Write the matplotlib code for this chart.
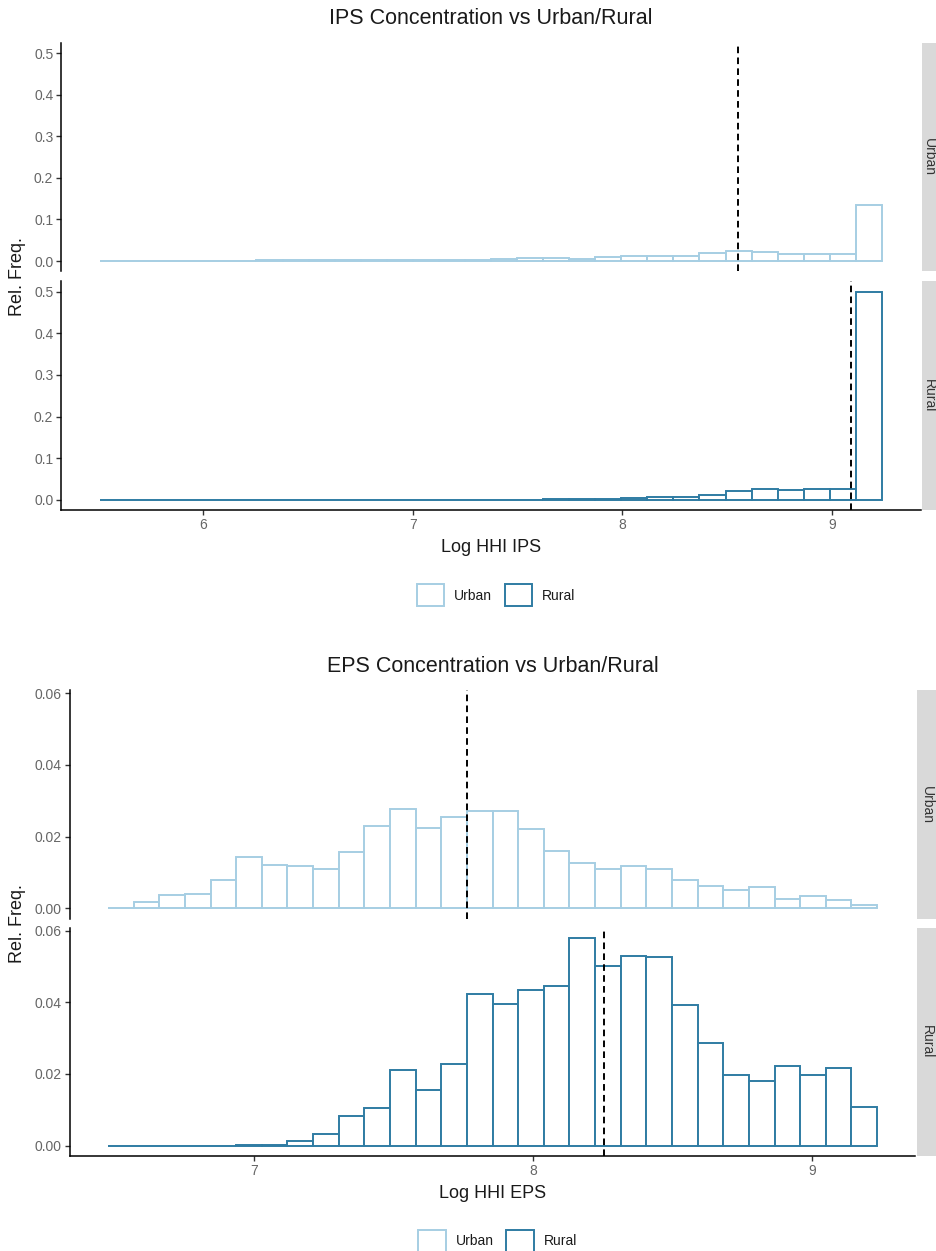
#!/usr/bin/env python3
# -*- coding: utf-8 -*-
"""Histogramas de concentração (IPS / EPS) por Urban vs Rural, estilo ggplot facet_grid."""

import numpy as np
import matplotlib
matplotlib.use("Agg")
import matplotlib.pyplot as plt
from matplotlib.patches import Patch, Rectangle

plt.rcParams["font.family"] = ["Liberation Sans", "DejaVu Sans"]

W, H = 937, 1251

URBAN_COLOR = "#A6CEE3"
RURAL_COLOR = "#2F7CA3"
GROUPS = ["Urban", "Rural"]

# --- IPS: 30 bins ---
ips_bin_start = 5.509
ips_bin_width = 0.1243
ips_urban = [0.0, 0.0, 0.0, 0.0, 0.0, 0.0, 0.002, 0.002, 0.002, 0.002,
             0.002, 0.002, 0.002, 0.003, 0.003, 0.004, 0.007, 0.008, 0.005, 0.009,
             0.012, 0.013, 0.012, 0.019, 0.023, 0.021, 0.016, 0.016, 0.016, 0.135]
ips_rural = [0.0, 0.0, 0.0, 0.0, 0.0, 0.0, 0.0, 0.0, 0.0, 0.0,
             0.0, 0.0, 0.0, 0.0, 0.0, 0.0, 0.0, 0.001, 0.002, 0.003,
             0.005, 0.006, 0.007, 0.012, 0.022, 0.026, 0.023, 0.025, 0.026, 0.5]
ips_means = [8.55, 9.09]
ips_xticks = [6, 7, 8, 9]
ips_yticks = [0.0, 0.1, 0.2, 0.3, 0.4, 0.5]

# --- EPS: 30 bins ---
eps_bin_start = 6.4767
eps_bin_width = 0.09188
eps_urban = [0.0, 0.0019, 0.0037, 0.0039, 0.0079, 0.0142, 0.0121, 0.0117, 0.0110, 0.0158,
             0.0230, 0.0277, 0.0223, 0.0255, 0.0272, 0.0272, 0.0220, 0.0159, 0.0126, 0.0110,
             0.0117, 0.0110, 0.0079, 0.0061, 0.0052, 0.0059, 0.0026, 0.0034, 0.0022, 0.0009]
eps_rural = [0.0, 0.0, 0.0, 0.0, 0.0, 0.0003, 0.0003, 0.0013, 0.0032, 0.0083,
             0.0104, 0.0211, 0.0156, 0.0227, 0.0423, 0.0396, 0.0434, 0.0445, 0.0579, 0.0501,
             0.0528, 0.0525, 0.0392, 0.0287, 0.0197, 0.0180, 0.0221, 0.0198, 0.0216, 0.0107]
eps_means = [7.763, 8.254]
eps_xticks = [7, 8, 9]
eps_yticks = [0.00, 0.02, 0.04, 0.06]


def px_rect(x0, y0, x1, y1):
    """Converte caixa em píxeis (origem no topo) para coordenadas da figura."""
    return [x0 / W, 1 - y1 / H, (x1 - x0) / W, (y1 - y0) / H]


def style_axis(ax, show_x):
    for side in ("top", "right"):
        ax.spines[side].set_visible(False)
    ax.spines["left"].set_linewidth(1.1)
    ax.spines["bottom"].set_linewidth(1.1)
    ax.spines["bottom"].set_visible(show_x)
    ax.tick_params(axis="both", length=3.5, width=1.0, color="#333333",
                   labelsize=10, labelcolor="#666666", pad=2)
    if not show_x:
        ax.tick_params(axis="x", bottom=False, labelbottom=False)


def draw_chart(title, xlabel, bin_start, bin_width, series, means, xticks, yticks,
               yfmt, left, right, top, gap, panel_h, strip_x, strip_text_x):
    edges = bin_start + bin_width * np.arange(len(series[0]) + 1)
    span = edges[-1] - edges[0]
    xlim = (edges[0] - 0.05 * span, edges[-1] + 0.05 * span)
    ymax = max(max(s) for s in series)
    ylim = (-0.05 * ymax, 1.05 * ymax)

    fig = plt.gcf()
    colors = [URBAN_COLOR, RURAL_COLOR]
    for i, (vals, m, grp, col) in enumerate(zip(series, means, GROUPS, colors)):
        y0 = top + i * (panel_h + gap)
        ax = fig.add_axes(px_rect(left, y0, right, y0 + panel_h))
        ax.bar(edges[:-1], vals, width=bin_width, align="edge",
               facecolor="white", edgecolor=col, linewidth=1.4)
        ax.axvline(m, color="black", linestyle=(0, (3.4, 2.2)), linewidth=1.4)
        ax.set_xlim(*xlim)
        ax.set_ylim(*ylim)
        ax.set_xticks(xticks)
        ax.set_yticks(yticks)
        ax.set_yticklabels([yfmt.format(v) for v in yticks])
        style_axis(ax, show_x=(i == len(series) - 1))

        # faixa cinzenta do facet (continua para lá da margem direita)
        sax = fig.add_axes(px_rect(strip_x, y0, strip_x + 26, y0 + panel_h))
        sax.set_axis_off()
        sax.add_patch(Rectangle((0, 0), 1, 1, transform=sax.transAxes,
                                facecolor="#D9D9D9", edgecolor="none"))
        fig.text(strip_text_x / W, 1 - (y0 + panel_h / 2) / H, grp, rotation=-90,
                 ha="center", va="center", fontsize=10, color="#333333")

    cx = (left + right) / 2
    bottom = top + 2 * panel_h + gap
    fig.text(cx / W, 1 - (top - 24) / H, title, ha="center", va="center",
             fontsize=15.5, color="#1A1A1A")
    fig.text(cx / W, 1 - (bottom + 37) / H, xlabel, ha="center", va="center",
             fontsize=13, color="#1A1A1A")
    fig.text(18 / W, 1 - (top + panel_h + gap / 2) / H, "Rel. Freq.", rotation=90,
             ha="center", va="center", fontsize=13, color="#1A1A1A")

    handles = [Patch(facecolor="white", edgecolor=c, linewidth=1.4) for c in colors]
    fig.legend(handles, GROUPS, loc="center", ncol=2, frameon=False,
               bbox_to_anchor=((cx + 5) / W, 1 - (bottom + 85) / H),
               fontsize=10, handlelength=2.0, handleheight=2.0,
               handletextpad=0.7, columnspacing=0.9, labelcolor="#1A1A1A")


def main():
    plt.figure(figsize=(W / 100, H / 100), dpi=100)

    draw_chart("IPS Concentration vs Urban/Rural", "Log HHI IPS",
               ips_bin_start, ips_bin_width, [ips_urban, ips_rural], ips_means,
               ips_xticks, ips_yticks, "{:.1f}",
               left=61, right=921, top=42.6, gap=10, panel_h=228.8,
               strip_x=922, strip_text_x=929)

    draw_chart("EPS Concentration vs Urban/Rural", "Log HHI EPS",
               eps_bin_start, eps_bin_width, [eps_urban, eps_rural], eps_means,
               eps_xticks, eps_yticks, "{:.2f}",
               left=69.6, right=915.5, top=690.4, gap=9, panel_h=228.3,
               strip_x=917, strip_text_x=927)

    plt.savefig("out.png", dpi=100, facecolor="white")
    plt.close()


if __name__ == "__main__":
    main()
